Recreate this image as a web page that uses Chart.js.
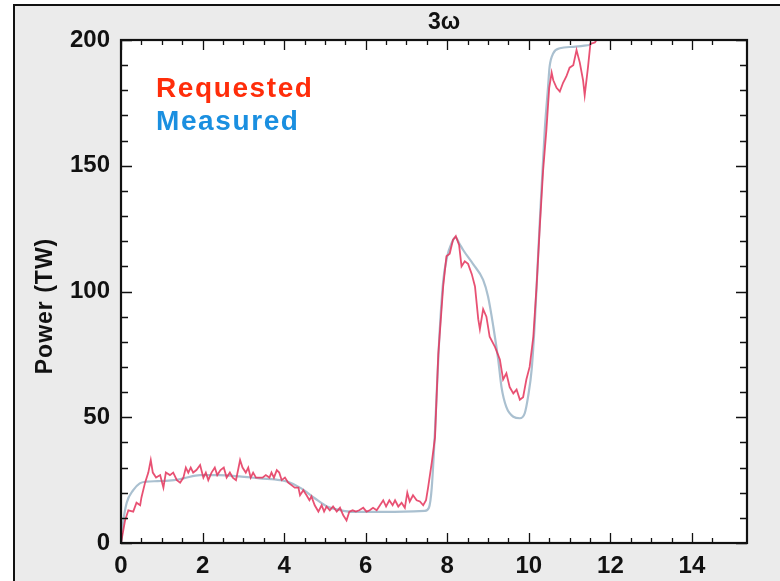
<!DOCTYPE html>
<html>
<head>
<meta charset="utf-8">
<script src="https://cdn.jsdelivr.net/npm/chart.js@4.4.1/dist/chart.umd.min.js"></script>
<style>
html, body { margin: 0; padding: 0; background: #fff; }
#wrap { position: relative; width: 780px; height: 581px; }
</style>
</head>
<body>
<div id="wrap"><canvas id="powerChart"></canvas></div>
<script>
// requested pulse shape (time ns, power TW)
var reqX = [0.00, 0.10, 0.18, 0.30, 0.38, 0.47, 0.50, 0.59, 0.67, 0.73, 0.78, 0.86, 0.96, 1.04, 1.10, 1.20, 1.28, 1.37, 1.45, 1.53,
  1.59, 1.65, 1.71, 1.77, 1.85, 1.94, 2.02, 2.08, 2.14, 2.22, 2.30, 2.36, 2.44, 2.52, 2.59, 2.67, 2.74, 2.82, 2.92, 2.98,
  3.06, 3.12, 3.18, 3.24, 3.31, 3.39, 3.47, 3.55, 3.64, 3.69, 3.75, 3.82, 3.88, 3.94, 4.02, 4.10, 4.18, 4.26, 4.35, 4.39,
  4.47, 4.55, 4.62, 4.67, 4.75, 4.84, 4.92, 4.98, 5.04, 5.12, 5.20, 5.29, 5.37, 5.45, 5.53, 5.60, 5.68, 5.76, 5.84, 5.94,
  6.02, 6.10, 6.18, 6.27, 6.35, 6.43, 6.50, 6.58, 6.66, 6.72, 6.80, 6.88, 6.96, 7.02, 7.08, 7.16, 7.25, 7.33, 7.41, 7.48,
  7.53, 7.62, 7.70, 7.78, 7.90, 7.98, 8.06, 8.14, 8.21, 8.29, 8.35, 8.43, 8.51, 8.60, 8.68, 8.76, 8.80, 8.88, 8.96, 9.04,
  9.17, 9.29, 9.37, 9.45, 9.53, 9.62, 9.70, 9.78, 9.86, 9.94, 10.02, 10.11, 10.19, 10.27, 10.35, 10.43, 10.50, 10.56, 10.60, 10.68,
  10.76, 10.84, 10.92, 11.00, 11.09, 11.17, 11.25, 11.33, 11.37, 11.45, 11.51, 11.62, 11.74];
var reqY = [0, 9, 13, 12.5, 16, 15, 18, 24, 28, 33, 28, 26, 27, 22, 28, 27, 28, 25, 24, 26,
  30, 28, 30, 28, 29, 31, 26, 28, 25, 28, 30, 27, 29, 30, 26, 28, 26, 25, 33, 30,
  28, 30, 26, 28, 26, 26, 26, 27, 26, 28, 26, 29, 28, 25, 26, 24, 23, 22, 22, 19,
  21, 19, 17, 18.5, 15, 12.5, 15, 12.5, 14.5, 13, 14.5, 12.5, 14, 11, 9, 12.5, 13, 12.5, 13, 14,
  12.5, 13, 14, 13, 15, 17, 14.5, 17, 15, 17, 14.5, 16, 14, 20, 16.5, 19, 17, 16.5, 15, 17,
  22, 32, 42, 75, 102, 114, 115, 120.5, 122, 118.5, 110, 112, 111, 107, 102, 89, 85, 93, 90, 82,
  78, 73, 65, 67.5, 62, 59.5, 61, 57, 58, 65, 70, 82, 102, 126, 148, 164, 181, 187, 184, 181,
  179.5, 183, 185.5, 189, 190, 196, 191, 184, 178, 189, 198.5, 199, 202];

// measured pulse
var measX = [0.00, 0.05, 0.14, 0.30, 0.46, 0.63, 0.90, 1.30, 1.53, 1.94, 2.40, 2.90, 3.40, 3.90, 4.08, 4.42, 4.75, 5.07, 5.40, 5.70,
  6.50, 7.45, 7.55, 7.62, 7.70, 7.80, 7.90, 8.00, 8.10, 8.20, 8.30, 8.39, 8.63, 8.88, 9.00, 9.13, 9.25, 9.33, 9.45, 9.62,
  9.78, 9.90, 9.98, 10.07, 10.15, 10.23, 10.27, 10.39, 10.47, 10.51, 10.60, 10.76, 11.09, 11.50];
var measY = [0, 8, 16, 21, 23.7, 24.4, 24.6, 25, 25.7, 27, 27, 26.5, 25.7, 25, 24.4, 21.7, 17.8, 14.4, 13, 12.4,
  12.4, 12.8, 14, 22, 45, 80, 104, 114, 119, 121.5, 119, 116.5, 111, 104.6, 98, 86, 72.8, 62, 54, 50.2,
  49.6, 51.6, 58, 69, 88.7, 115, 128, 164, 181, 189.4, 194.7, 196.7, 197.3, 198];

var seriesNames = ['Requested', 'Measured'];
var seriesColors = ['#ff2d0a', '#1a8fe0'];
var xLabelValues = [0, 2, 4, 6, 8, 10, 12, 14];
var yLabelValues = [0, 50, 100, 150, 200];
var titleText = '3\u03c9';
var yTitle = 'Power (TW)';

function toPoints(xs, ys) {
  var out = [];
  for (var i = 0; i < xs.length; i++) out.push({ x: xs[i], y: ys[i] });
  return out;
}

var tickFont = { family: "'Liberation Sans Narrow', 'Liberation Sans', Arial, sans-serif", weight: 'bold', size: 24 };

var framePlugin = {
  id: 'frame',
  beforeDraw: function(chart) {
    var ctx = chart.ctx, a = chart.chartArea;
    ctx.save();
    ctx.fillStyle = '#fff';
    ctx.fillRect(0, 0, chart.width, chart.height);
    ctx.fillStyle = '#ebebeb';
    ctx.fillRect(14, 5, chart.width - 14, chart.height - 5);
    ctx.strokeStyle = '#111';
    ctx.lineWidth = 2;
    ctx.beginPath();
    ctx.moveTo(14, chart.height);
    ctx.lineTo(14, 5);
    ctx.lineTo(chart.width, 5);
    ctx.stroke();
    ctx.fillStyle = '#fff';
    ctx.fillRect(a.left, a.top, a.right - a.left, a.bottom - a.top);
    ctx.restore();
  },
  afterDatasetsDraw: function(chart) {
    var ctx = chart.ctx, a = chart.chartArea;
    var xs = chart.scales.x, ys = chart.scales.y;
    ctx.save();
    ctx.strokeStyle = '#111';
    ctx.lineWidth = 1.3;
    ctx.beginPath();
    xs.ticks.forEach(function(t) {
      var v = t.value;
      if (Math.abs(v * 2 - Math.round(v * 2)) > 1e-6) return;
      var px = Math.round(xs.getPixelForValue(v)) + 0.5;
      var len = (v % 2 === 0) ? 10 : 5;
      ctx.moveTo(px, a.bottom); ctx.lineTo(px, a.bottom - len);
      ctx.moveTo(px, a.top); ctx.lineTo(px, a.top + len);
    });
    ys.ticks.forEach(function(t) {
      var v = t.value;
      if (v % 10 !== 0) return;
      var py = Math.round(ys.getPixelForValue(v)) + 0.5;
      var len = (v % 50 === 0) ? 11 : 7;
      ctx.moveTo(a.left, py); ctx.lineTo(a.left + len, py);
      ctx.moveTo(a.right, py); ctx.lineTo(a.right - len, py);
    });
    ctx.stroke();
    ctx.lineWidth = 2.2;
    ctx.strokeRect(a.left, a.top, a.right - a.left, a.bottom - a.top);

    // title
    ctx.fillStyle = '#111';
    ctx.textAlign = 'center';
    ctx.textBaseline = 'middle';
    ctx.font = "bold 23px 'Liberation Sans', Arial, sans-serif";
    ctx.fillText(titleText, 444, 23);

    // y title
    ctx.save();
    ctx.translate(46, 306);
    ctx.rotate(-Math.PI / 2);
    ctx.font = "bold 23px 'Liberation Sans', Arial, sans-serif";
    ctx.letterSpacing = '1px';
    ctx.fillText(yTitle, 0, 0);
    ctx.restore();

    // legend
    ctx.textAlign = 'left';
    ctx.textBaseline = 'alphabetic';
    ctx.font = "bold 28px 'Liberation Sans', Arial, sans-serif";
    ctx.letterSpacing = '1.6px';
    ctx.fillStyle = seriesColors[0];
    ctx.fillText(seriesNames[0], 156, 97);
    ctx.fillStyle = seriesColors[1];
    ctx.fillText(seriesNames[1], 156, 130);
    ctx.restore();
  }
};

document.addEventListener('DOMContentLoaded', function() {
  var el = document.getElementById('powerChart');
  if (!el || !window.Chart) return;
  new Chart(el, {
    type: 'line',
    data: {
      datasets: [
        {
          label: seriesNames[0],
          data: toPoints(reqX, reqY),
          borderColor: 'rgba(228, 50, 90, 0.85)',
          borderWidth: 1.8,
          pointRadius: 0,
          tension: 0,
          order: 0
        },
        {
          label: seriesNames[1],
          data: toPoints(measX, measY),
          borderColor: 'rgb(170, 192, 208)',
          borderWidth: 2.2,
          pointRadius: 0,
          cubicInterpolationMode: 'monotone',
          order: 1
        }
      ]
    },
    options: {
      responsive: true,
      maintainAspectRatio: false,
      animation: false,
      layout: { padding: { left: 0, top: 40, right: 33, bottom: 0 } },
      plugins: { legend: { display: false }, tooltip: { enabled: false }, title: { display: false } },
      scales: {
        x: {
          type: 'linear',
          min: 0,
          max: 15.35,
          grid: { display: false, drawTicks: false },
          border: { display: false },
          afterFit: function(s) { s.height = 38; },
          ticks: {
            stepSize: 0.5,
            autoSkip: false,
            maxRotation: 0,
            padding: 9,
            color: '#111',
            font: tickFont,
            callback: function(v) { return xLabelValues.indexOf(v) >= 0 ? String(v) : ''; }
          }
        },
        y: {
          min: 0,
          max: 200,
          grid: { display: false, drawTicks: false },
          border: { display: false },
          afterFit: function(s) { s.width = 121; },
          ticks: {
            stepSize: 10,
            autoSkip: false,
            padding: 11,
            color: '#111',
            font: tickFont,
            callback: function(v) { return yLabelValues.indexOf(v) >= 0 ? String(v) : ''; }
          }
        }
      }
    },
    plugins: [framePlugin]
  });
});
</script>
</body>
</html>
